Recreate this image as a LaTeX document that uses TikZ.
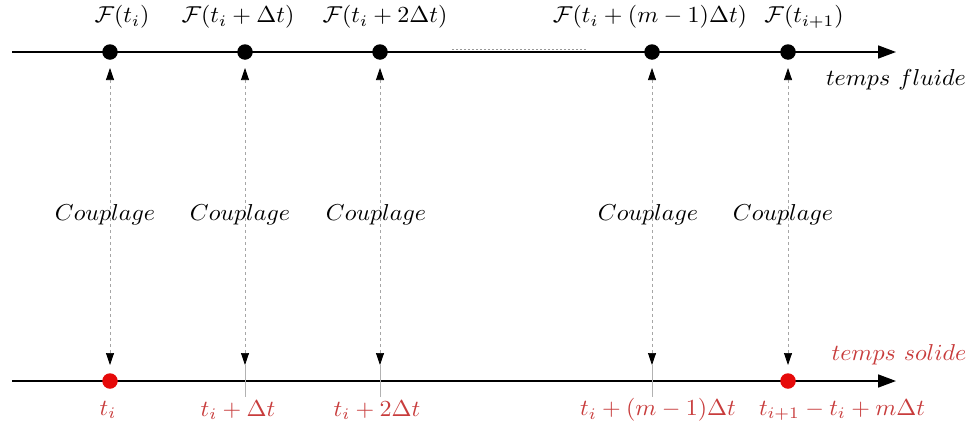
\documentclass[tikz,border=0pt]{standalone}
\usepackage{graphicx}
\usetikzlibrary{arrows.meta}
\definecolor{lblred}{RGB}{200,60,60}
\definecolor{dotred}{RGB}{230,10,10}
\newcommand{\sx}[1]{\scalebox{2.4}[2.3]{#1}}
\tikzset{
  axis/.style={line width=1.7pt,-{Triangle[length=18pt,width=13pt]}},
  cpl/.style={draw=gray!70,line width=0.7pt,dash pattern=on 3pt off 3pt,
    {Triangle[length=12pt,width=8pt,fill=black,color=black]}-{Triangle[length=12pt,width=8pt,fill=black,color=black]}},
  tick/.style={draw=gray!60,line width=0.6pt},
  bdot/.style={circle,fill=black,minimum width=15.5pt,minimum height=14pt,inner sep=0pt},
  rdot/.style={circle,fill=dotred,minimum width=15.5pt,minimum height=14pt,inner sep=0pt},
  lbl/.style={inner sep=0pt},
  rlbl/.style={inner sep=0pt,text=lblred},
}
\begin{document}
\begin{tikzpicture}[x=1pt,y=-1pt]
\useasboundingbox (0,0) rectangle (971,426);
% axes
\coordinate (ts) at (12,52);
\coordinate (te) at (896,52);
\coordinate (bs) at (12,381);
\coordinate (be) at (896,381);
\draw[axis] (ts) -- (te);
\draw[axis] (bs) -- (be);
\coordinate (ds) at (452,49);
\coordinate (de) at (586,49);
\draw[gray!80,line width=0.8pt,dash pattern=on 2pt off 2pt] (ds) -- (de);
% fluid dots
\node[bdot] (f1) at (110,52) {};
\node[bdot] (f2) at (245,52) {};
\node[bdot] (f3) at (380,52) {};
\node[bdot] (f4) at (652,52) {};
\node[bdot] (f5) at (788,52) {};
% solid points
\node[rdot] (s1) at (110,381) {};
\coordinate (s2) at (245,381);
\coordinate (s3) at (380,381);
\coordinate (s4) at (652,381);
\node[rdot] (s5) at (788,381) {};
% coupling arrows
\foreach \x/\n in {110/1,245/2,380/3,652/4,788/5}{
  \coordinate (u\n) at (\x,68);
  \coordinate (d\n) at (\x,365);
  \draw[cpl] (u\n) -- (d\n);
}
% ticks below solid axis
\foreach \n/\x in {2/245,3/380,4/652}{
  \coordinate (e\n) at (\x,397);
  \draw[tick] (d\n) -- (e\n);
}
% top labels
\node[lbl] (lf1) at (122,17) {\sx{$\mathcal{F}(t_i)$}};
\node[lbl] (lf2) at (238,17) {\sx{$\mathcal{F}(t_i+\Delta t)$}};
\node[lbl] (lf3) at (385,17) {\sx{$\mathcal{F}(t_i+2\Delta t)$}};
\node[lbl] (lf4) at (650,17) {\sx{$\mathcal{F}(t_i+(m-1)\Delta t)$}};
\node[lbl] (lf5) at (804,17) {\sx{$\mathcal{F}(t_{i+1})$}};
% coupling labels
\node[lbl] (c1) at (105,215) {\sx{$Couplage$}};
\node[lbl] (c2) at (240,215) {\sx{$Couplage$}};
\node[lbl] (c3) at (376,215) {\sx{$Couplage$}};
\node[lbl] (c4) at (648,215) {\sx{$Couplage$}};
\node[lbl] (c5) at (783,215) {\sx{$Couplage$}};
% axis names
\node[lbl] (tf) at (896,80) {\sx{$temps\ fluide$}};
\node[rlbl] (tsol) at (899,355) {\sx{$temps\ solide$}};
% bottom labels
\node[rlbl] (b1) at (108,410) {\sx{$t_i$}};
\node[rlbl] (b2) at (238,410) {\sx{$t_i+\Delta t$}};
\node[rlbl] (b3) at (377,410) {\sx{$t_i+2\Delta t$}};
\node[rlbl] (b4) at (658,410) {\sx{$t_i+(m-1)\Delta t$}};
\node[rlbl] (b5) at (842,410) {\sx{$t_{i+1}-t_i+m\Delta t$}};
\end{tikzpicture}
\end{document}
